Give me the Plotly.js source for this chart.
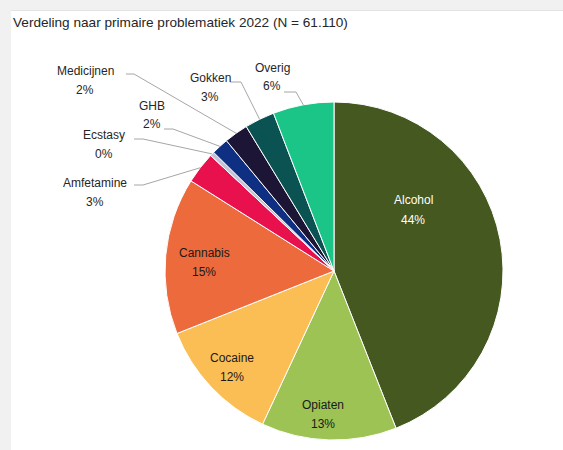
<!DOCTYPE html>
<html><head><meta charset="utf-8">
<script src="https://cdn.plot.ly/plotly-3.0.1.min.js"></script>
<style>html,body{margin:0;padding:0;background:#fff}</style></head>
<body><div id="chart" style="width:563px;height:450px"></div>
<script>
// ---- data ----
const categories = ['Alcohol','Opiaten','Cocaine','Cannabis','Amfetamine','Ecstasy','GHB','Medicijnen','Gokken','Overig'];
const counts = [26900, 7900, 7350, 9150, 1850, 250, 1000, 1400, 1750, 3560];
const colors = ['#44581f','#9dc354','#fbbe55','#ec6a3c','#e8114e','#c4c4d6','#0e2f82','#1d1535','#0b5352','#1bc487'];
const titleText = 'Verdeling naar primaire problematiek 2022 (N = 61.110)';

// ---- layout geometry (pixels) ----
const W = 563, H = 450, CX = 334, CY = 271, R = 169;
const labelPos = [[413,210],[323,414],[232,367],[204,262],[95,192],[104,144],[152,115],[85,80],[210,87],[272,77]];
// [x start, y start, elbow x] for leader lines
const leaderStart = [null,null,null,null,[134,185,143],[134,139,143],[164,129,173],[126,74,134],[230,82,241],[284,92,296]];
const textColors = ['#ffffff','#1a1a1a','#1a1a1a','#1a1a1a','#262626','#262626','#262626','#262626','#262626','#262626'];

const px = x => x / W, py = y => 1 - y / H;
const total = counts.reduce((a, b) => a + b, 0);

const annotations = [];
const shapes = [
  {type:'rect', xref:'paper', yref:'paper', x0:0, x1:1, y0:py(11), y1:1, fillcolor:'#f1f1f1', line:{width:0}, layer:'below'},
  {type:'rect', xref:'paper', yref:'paper', x0:0, x1:px(11), y0:0, y1:1, fillcolor:'#f1f1f1', line:{width:0}, layer:'below'},
  {type:'line', xref:'paper', yref:'paper', x0:px(11), x1:1, y0:py(10.5), y1:py(10.5), line:{color:'#e3e3e3', width:1}}
];

let cum = 0;
counts.forEach((v, i) => {
  const mid = (cum + v / 2) / total * 2 * Math.PI;
  cum += v;
  const pct = Math.round(100 * v / total) + '%';
  const [lx, ly] = labelPos[i];
  const font = {family:'Liberation Sans, Arial, sans-serif', size:12, color:textColors[i]};
  annotations.push({xref:'paper', yref:'paper', x:px(lx), y:py(ly - 9.5), text:categories[i], showarrow:false, xanchor:'center', yanchor:'middle', font});
  annotations.push({xref:'paper', yref:'paper', x:px(lx), y:py(ly + 9.5), text:pct, showarrow:false, xanchor:'center', yanchor:'middle', font});
  const ls = leaderStart[i];
  if (ls) {
    const ex = CX + R * Math.sin(mid), ey = CY - R * Math.cos(mid);
    shapes.push({type:'path', xref:'paper', yref:'paper',
      path:`M ${px(ls[0])} ${py(ls[1])} L ${px(ls[2])} ${py(ls[1])} L ${px(ex)} ${py(ey)}`,
      line:{color:'#a6a6a6', width:1}});
  }
});

const trace = {
  type:'pie', labels:categories, values:counts, sort:false, direction:'clockwise', rotation:0,
  marker:{colors:colors, line:{color:'#ffffff', width:1}},
  textinfo:'none', hoverinfo:'label+percent', showlegend:false,
  domain:{x:[(CX - R) / W, (CX + R) / W], y:[(H - CY - R) / H, (H - CY + R) / H]}
};

const layout = {
  width:W, height:H, margin:{l:0, r:0, t:0, b:0},
  paper_bgcolor:'#ffffff', plot_bgcolor:'#ffffff',
  title:{text:titleText, x:px(13), xanchor:'left', y:py(22), yanchor:'middle',
         font:{family:'Liberation Sans, Arial, sans-serif', size:13.6, color:'#262626'}},
  annotations, shapes
};
Plotly.newPlot('chart', [trace], layout, {displayModeBar:false, staticPlot:true});
</script></body></html>
